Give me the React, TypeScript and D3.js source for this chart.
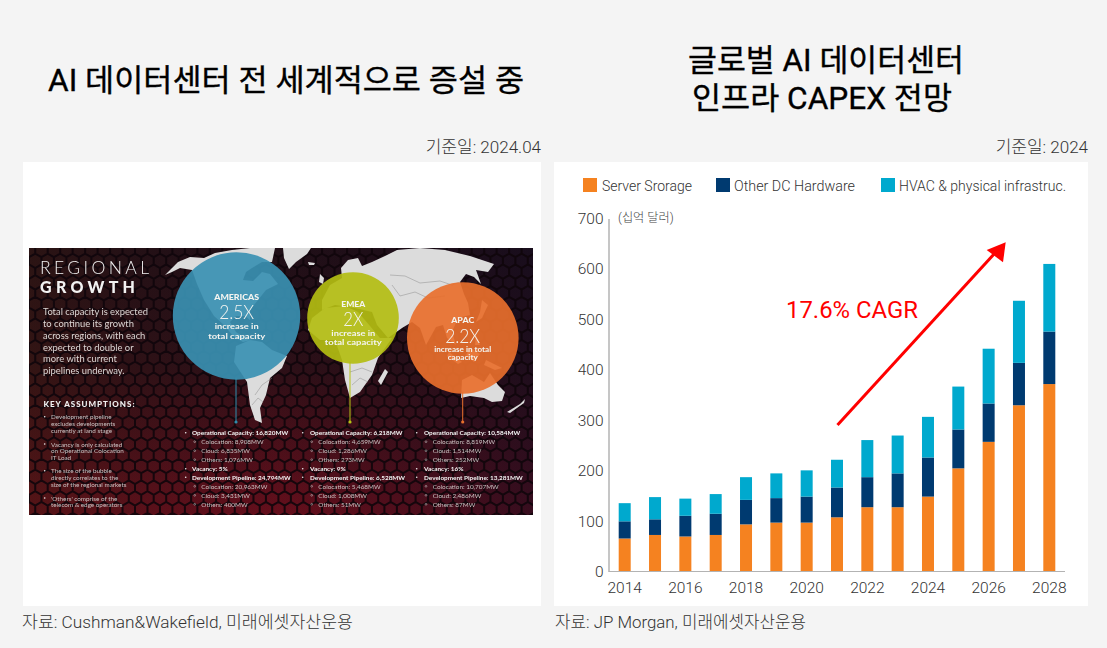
import React, { useMemo } from "react";
import * as d3 from "d3";

// ---------- Chart data (billions USD) ----------
const years = [2014,2015,2016,2017,2018,2019,2020,2021,2022,2023,2024,2025,2026,2027,2028];
const serverStorage = [65,72,69,72,93,96.5,96.5,107,127,127,148,204,256.5,329,371];
const otherHardware = [34,31,41,42,48.5,48.5,51.5,59,59.5,67,77.5,77,76,84,104];
const hvacInfra = [36,44,34,39,45,49,52,55,73.5,75,80.5,85,108.5,123,134];
const seriesKeys = ["server", "other", "hvac"];
const seriesNames = ["Server Srorage", "Other DC Hardware", "HVAC & physical infrastruc."];
const seriesColors = ["#f58220", "#003a70", "#00a9ce"];
const yTicks = [0,100,200,300,400,500,600,700];
const xLabelYears = [2014,2016,2018,2020,2022,2024,2026,2028];

// ---------- Infographic content ----------
const introLines = ["Total capacity is expected","to continue its growth","across regions, with each","expected to double or","more with current","pipelines underway."];
const assumptions = [
  ["Development pipeline","excludes developments","currently at land stage"],
  ["Vacancy is only calculated","on Operational Colocation","IT Load"],
  ["The size of the bubble","directly correlates to the","size of the regional markets"],
  ["'Others' comprise of the","telecom & edge operators"],
];
const americasStats = ["Operational Capacity: 16,820MW","Colocation: 8,908MW","Cloud: 6,835MW","Others: 1,076MW","Vacancy: 5%","Development Pipeline: 24,794MW","Colocation: 20,963MW","Cloud: 3,431MW","Others: 400MW"];
const emeaStats = ["Operational Capacity: 6,218MW","Colocation: 4,659MW","Cloud: 1,286MW","Others: 273MW","Vacancy: 9%","Development Pipeline: 6,528MW","Colocation: 5,468MW","Cloud: 1,008MW","Others: 51MW"];
const apacStats = ["Operational Capacity: 10,584MW","Colocation: 8,819MW","Cloud: 1,514MW","Others: 252MW","Vacancy: 16%","Development Pipeline: 13,281MW","Colocation: 10,707MW","Cloud: 2,486MW","Others: 87MW"];

type P = [number, number];
const landShapes: P[][] = [
  [[165,275],[172,268],[178,262],[190,257],[204,258],[215,253],[232,250],[250,248],[275,248],[272,262],[262,262],[252,268],[246,272],[243,280],[253,281],[262,272],[270,274],[278,284],[266,290],[258,300],[250,310],[250,320],[245,316],[236,316],[230,322],[236,332],[245,338],[251,340],[243,342],[233,336],[224,325],[214,316],[204,300],[197,284],[192,270],[180,268],[172,272]],
  [[236,346],[250,340],[262,342],[272,350],[287,356],[282,368],[270,378],[266,395],[260,408],[262,423],[255,420],[250,405],[247,382],[234,362]],
  [[283,248],[311,248],[307,254],[296,262],[289,269],[284,258]],
  [[308,262],[315,263],[314,265],[309,265]],
  [[320,274],[324,278],[323,284],[319,282]],
  [[322,300],[330,285],[342,278],[341,268],[348,260],[358,258],[362,266],[372,262],[385,256],[397,250],[420,248],[445,250],[470,256],[494,264],[488,272],[476,270],[481,284],[474,277],[466,274],[460,282],[464,294],[468,303],[470,315],[458,318],[452,332],[456,345],[447,338],[443,325],[436,327],[426,345],[420,328],[412,322],[402,328],[388,338],[377,325],[372,312],[355,308],[335,305],[322,310]],
  [[482,300],[488,305],[482,318],[476,322],[480,312]],
  [[449,352],[462,362],[458,364],[447,356]],
  [[470,348],[480,354],[474,362],[466,355]],
  [[486,360],[502,368],[495,370],[484,365]],
  [[476,335],[480,345],[475,345]],
  [[325,308],[345,306],[358,312],[370,326],[380,338],[392,338],[378,358],[372,375],[360,392],[350,398],[345,380],[342,360],[335,340],[320,340],[308,330],[312,318]],
  [[385,369],[388,372],[381,385],[378,381]],
  [[462,380],[472,375],[484,382],[490,373],[498,385],[505,392],[502,401],[492,402],[484,398],[470,396],[461,398]],
  [[507,412],[520,404],[525,399],[524,403],[510,413]],
];
const borderLines: P[][] = [
  [[390,275],[405,276],[420,283],[440,281],[452,285],[460,282]],
  [[392,285],[400,296],[415,292],[428,298],[445,296]],
  [[255,395],[262,385],[272,378]],
  [[252,405],[258,398],[263,402]],
  [[350,372],[362,368],[372,372]],
  [[352,385],[360,378],[368,382]],
];

const FONT = "Roboto, 'Noto Sans CJK KR', sans-serif";
const INFO = "Lato, 'Open Sans', sans-serif";

function hexMesh(x0: number, y0: number, x1: number, y1: number, r: number) {
  const p = d3.path();
  const w = Math.sqrt(3) * r;
  const rows = d3.range(0, Math.ceil((y1 - y0) / (1.5 * r)) + 2);
  for (const row of rows) {
    const cols = d3.range(-1, Math.ceil((x1 - x0) / w) + 2);
    for (const c of cols) {
      const cx = x0 + c * w + (row % 2 ? w / 2 : 0);
      const cy = y0 + row * 1.5 * r;
      d3.range(6).forEach((i) => {
        const a = Math.PI / 3 * i + Math.PI / 6;
        const hx = cx + r * Math.cos(a), hy = cy + r * Math.sin(a);
        if (i === 0) p.moveTo(hx, hy); else p.lineTo(hx, hy);
      });
      p.closePath();
    }
  }
  return p.toString();
}

function StatsColumn({ lines, bullet, text, subBullet, subText }: { lines: string[]; bullet: number; text: number; subBullet: number; subText: number }) {
  const rowY = [432.7,441.7,450.7,459.7,468.7,477.3,486.3,495.3,504.3];
  const isMain = (i: number) => i === 0 || i === 4 || i === 5;
  return (
    <g fontFamily={INFO} fontSize={6.4} dominantBaseline="central">
      {lines.map((t, i) => (
        <g key={i}>
          {isMain(i)
            ? <circle cx={bullet} cy={rowY[i]} r={0.8} fill="#eee" />
            : <circle cx={subBullet} cy={rowY[i]} r={0.9} fill="none" stroke="#ccc" strokeWidth={0.5} />}
          <text x={isMain(i) ? text : subText} y={rowY[i]} fill={isMain(i) ? "#f2f2f2" : "#c9c0c0"} fontWeight={isMain(i) ? 700 : 400}>{t}</text>
        </g>
      ))}
    </g>
  );
}

function Bubble({ cx, cy, r, fill, stemX, stemBottom, stem }: { cx: number; cy: number; r: number; fill: string; stemX: number; stemBottom: number; stem: string }) {
  return (
    <g>
      <line x1={stemX} x2={stemX} y1={cy + r - 2} y2={stemBottom} stroke={stem} strokeWidth={1} />
      <circle cx={stemX} cy={stemBottom} r={1.6} fill={stem} />
      <circle cx={cx} cy={cy} r={r} fill={fill} fillOpacity={0.92} />
    </g>
  );
}

function BubbleText({ x, lines }: { x: number; lines: { t: string; y: number; size: number; weight: number; w: number }[] }) {
  return (
    <g fontFamily={INFO} fill="#f4f4f0" textAnchor="middle" dominantBaseline="central">
      {lines.map((l) => (
        <text key={l.t} x={x} y={l.y} fontSize={l.size} fontWeight={l.weight} textLength={l.w} lengthAdjust="spacingAndGlyphs">{l.t}</text>
      ))}
    </g>
  );
}

function Infographic() {
  const mesh = useMemo(() => hexMesh(29, 250, 533, 515, 7.2), []);
  const line = d3.line();
  return (
    <g>
      <defs>
        <linearGradient id="bgV" x1="0" y1="0" x2="0" y2="1">
          <stop offset="0" stopColor="#1f0f17" />
          <stop offset="0.45" stopColor="#2e1017" />
          <stop offset="1" stopColor="#6d0f1c" />
        </linearGradient>
        <linearGradient id="bgH" x1="0" y1="0" x2="1" y2="0">
          <stop offset="0" stopColor="#3a1a10" stopOpacity={0.45} />
          <stop offset="0.5" stopColor="#200c18" stopOpacity={0.1} />
          <stop offset="1" stopColor="#140c20" stopOpacity={0.6} />
        </linearGradient>
        <clipPath id="imgClip"><rect x={29} y={248} width={504} height={267} /></clipPath>
        <filter id="soft" x="0" y="0" width="1" height="1"><feGaussianBlur stdDeviation={0.4} /></filter>
      </defs>
      <g clipPath="url(#imgClip)">
        <rect x={29} y={248} width={504} height={267} fill="url(#bgV)" />
        <rect x={29} y={248} width={504} height={267} fill="url(#bgH)" />
        <path d={mesh} fill="none" stroke="#0f060b" strokeWidth={2} opacity={0.9} />
        <g filter="url(#soft)">
          {landShapes.map((s, i) => <path key={i} d={(line(s) ?? "") + "Z"} fill="#dcdcdc" />)}
          {borderLines.map((s, i) => <path key={i} d={line(s) ?? ""} fill="none" stroke="#8c8c8c" strokeWidth={0.5} />)}
        </g>
        <Bubble cx={236.5} cy={316} r={63.7} fill="#3a90b2" stemX={236} stemBottom={422} stem="#2f8cab" />
        <Bubble cx={353} cy={318} r={45.8} fill="#b3bd12" stemX={350} stemBottom={422} stem="#b6c214" />
        <Bubble cx={462.8} cy={338} r={55.8} fill="#e86f2c" stemX={462.7} stemBottom={422} stem="#e8702c" />
      </g>
      <g filter="url(#soft)">
        <g fontFamily={INFO} fill="#f2f2f2">
          <text x={40} y={274} fontSize={17.5} fontWeight={300} textLength={109} lengthAdjust="spacing">REGIONAL</text>
          <text x={40} y={292.8} fontSize={16} fontWeight={900} textLength={95} lengthAdjust="spacing">GROWTH</text>
        </g>
        <g fontFamily={INFO} fontSize={9.4} fill="#dcd6d4" dominantBaseline="central">
          {introLines.map((t, i) => <text key={t} x={43} y={[311.7,323,335,347,358.5,370][i]}>{t}</text>)}
        </g>
        <text x={43.5} y={403.7} fontFamily={INFO} fontSize={8} fontWeight={900} fill="#f0f0f0" dominantBaseline="central" textLength={91} lengthAdjust="spacing">KEY ASSUMPTIONS:</text>
        <g fontFamily={INFO} fontSize={6.3} fill="#c9c0c0" dominantBaseline="central">
          {assumptions.map((group, g) => {
            const ys = [[416.7,423.3,430],[444,450.7,457.3],[470.7,477.3,484],[498,504.3]][g];
            return (
              <g key={g}>
                <circle cx={44.7} cy={ys[0]} r={0.8} fill="#eee" />
                {group.map((t, i) => <text key={t} x={51} y={ys[i]}>{t}</text>)}
              </g>
            );
          })}
        </g>
        <StatsColumn lines={americasStats} bullet={185.7} text={192} subBullet={194.7} subText={201.3} />
        <StatsColumn lines={emeaStats} bullet={302.7} text={310} subBullet={311.7} subText={318.3} />
        <StatsColumn lines={apacStats} bullet={416.7} text={424} subBullet={426} subText={432.7} />
        <BubbleText x={236.7} lines={[
          { t: "AMERICAS", y: 296.7, size: 8, weight: 900, w: 45 },
          { t: "2.5X", y: 311.7, size: 19, weight: 300, w: 35 },
          { t: "increase in", y: 326.7, size: 7.4, weight: 700, w: 44 },
          { t: "total capacity", y: 336.2, size: 7.4, weight: 700, w: 57 },
        ]} />
        <BubbleText x={353.3} lines={[
          { t: "EMEA", y: 303.7, size: 7.6, weight: 900, w: 24 },
          { t: "2X", y: 318.3, size: 19, weight: 300, w: 20 },
          { t: "increase in", y: 333, size: 7.4, weight: 700, w: 44 },
          { t: "total capacity", y: 342.7, size: 7.4, weight: 700, w: 57 },
        ]} />
        <BubbleText x={462.7} lines={[
          { t: "APAC", y: 320, size: 7.6, weight: 900, w: 23 },
          { t: "2.2X", y: 335, size: 19, weight: 300, w: 35 },
          { t: "increase in total", y: 349, size: 6.6, weight: 700, w: 57 },
          { t: "capacity", y: 357.3, size: 6.6, weight: 700, w: 30 },
        ]} />
      </g>
    </g>
  );
}

function CapexChart() {
  const y = d3.scaleLinear().domain([0, 700]).range([571.3, 218]);
  const x = d3.scalePoint<number>().domain(years).range([624.7, 1049.3]);
  const rows = years.map((yr, i) => ({ year: yr, server: serverStorage[i], other: otherHardware[i], hvac: hvacInfra[i] }));
  const stacked = d3.stack<any>().keys(seriesKeys)(rows);
  const barW = 12;
  const legendX = [583, 716, 881];
  const legendLen = [90, 121, 167];
  return (
    <g fontFamily={FONT}>
      {seriesNames.map((n, i) => (
        <g key={n}>
          <rect x={legendX[i]} y={178} width={14} height={14} fill={seriesColors[i]} />
          <text x={legendX[i] + (i === 0 ? 19 : 18)} y={185.5} fontSize={14} fontWeight={300} fill="#333" dominantBaseline="central" textLength={legendLen[i]} lengthAdjust="spacingAndGlyphs">{n}</text>
        </g>
      ))}
      {stacked.map((s, si) => (
        <g key={s.key} fill={seriesColors[si]}>
          {s.map((d) => (
            <rect key={d.data.year} x={(x(d.data.year) as number) - barW / 2} y={y(d[1])} width={barW} height={y(d[0]) - y(d[1])} />
          ))}
        </g>
      ))}
      <line x1={609} x2={609} y1={219} y2={571.8} stroke="#b3b3b3" strokeWidth={1.5} />
      <line x1={608.5} x2={1065} y1={571.5} y2={571.5} stroke="#b3b3b3" strokeWidth={1} />
      {yTicks.map((t) => (
        <text key={t} x={603.5} y={y(t) + 0.8} textAnchor="end" fontSize={15.5} fontWeight={300} fill="#333" dominantBaseline="central">{t}</text>
      ))}
      {xLabelYears.map((yr) => (
        <text key={yr} x={x(yr)} y={588} textAnchor="middle" fontSize={15.5} fontWeight={300} fill="#333" dominantBaseline="central">{yr}</text>
      ))}
      <text x={618} y={217.5} fontSize={12.2} fontWeight={300} fill="#444" dominantBaseline="central">(십억 달러)</text>
      <text x={786} y={309} fontSize={24.5} fill="#ff0000" dominantBaseline="central" textLength={132} lengthAdjust="spacingAndGlyphs">17.6% CAGR</text>
      <line x1={837.5} y1={425} x2={995} y2={253} stroke="#ff0000" strokeWidth={3} />
      <path d={d3.line()([[1005.7,242.3],[986.7,250],[1003,262.3]]) + "Z"} fill="#ff0000" />
    </g>
  );
}

export default function App() {
  return (
    <svg width={1107} height={648} viewBox="0 0 1107 648" style={{ position: "absolute", left: 0, top: 0, display: "block" }}>
      <rect width={1107} height={648} fill="#f4f4f4" />
      <rect x={23} y={162} width={518} height={444} fill="#ffffff" />
      <rect x={554} y={162} width={534} height={444} fill="#ffffff" />
      <g fontFamily={FONT} fill="#000" stroke="#000" strokeWidth={0.35} fontWeight={400} fontSize={31} dominantBaseline="central">
        <text x={48} y={80} textLength={476} lengthAdjust="spacingAndGlyphs">AI 데이터센터 전 세계적으로 증설 중</text>
        <text x={688} y={60} textLength={276} lengthAdjust="spacingAndGlyphs">글로벌 AI 데이터센터</text>
        <text x={692} y={98} textLength={260} lengthAdjust="spacingAndGlyphs">인프라 CAPEX 전망</text>
      </g>
      <g fontFamily={FONT} fill="#333" fontSize={17} fontWeight={300} dominantBaseline="central">
        <text x={541} y={147} textAnchor="end">기준일: 2024.04</text>
        <text x={1088} y={147} textAnchor="end">기준일: 2024</text>
        <text x={22} y={622} textLength={331} lengthAdjust="spacingAndGlyphs">자료: Cushman&amp;Wakefield, 미래에셋자산운용</text>
        <text x={555} y={622} textLength={251} lengthAdjust="spacingAndGlyphs">자료: JP Morgan, 미래에셋자산운용</text>
      </g>
      <Infographic />
      <CapexChart />
    </svg>
  );
}
